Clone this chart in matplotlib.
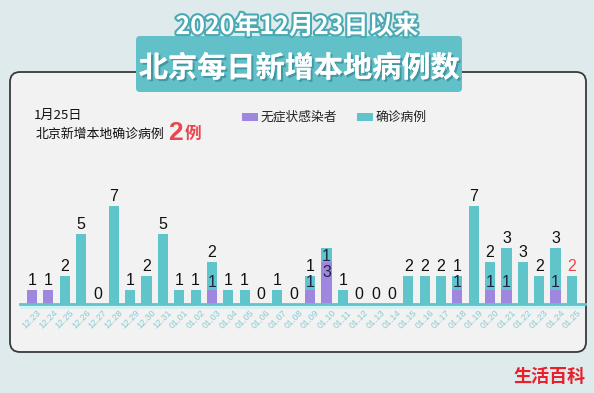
import numpy as np
import matplotlib.pyplot as plt
from matplotlib.patches import FancyBboxPatch, Rectangle
import matplotlib.patheffects as pe

plt.rcParams['font.family'] = ['Noto Sans CJK SC', 'DejaVu Sans']

dates = ['12.23', '12.24', '12.25', '12.26', '12.27', '12.28', '12.29', '12.30', '12.31',
         '01.01', '01.02', '01.03', '01.04', '01.05', '01.06', '01.07', '01.08', '01.09',
         '01.10', '01.11', '01.12', '01.13', '01.14', '01.15', '01.16', '01.17', '01.18',
         '01.19', '01.20', '01.21', '01.22', '01.23', '01.24', '01.25']
# purple part (asymptomatic) and teal part (confirmed)
asym = [1, 1, 0, 0, 0, 0, 0, 0, 0, 0, 0, 1, 0, 0, 0, 0, 0, 1, 3, 0, 0, 0, 0, 0, 0, 0, 1,
        0, 1, 1, 0, 0, 1, 0]
confirmed = [0, 0, 2, 5, 0, 7, 1, 2, 5, 1, 1, 2, 1, 1, 0, 1, 0, 1, 1, 1, 0, 0, 0, 2, 2, 2, 1,
             7, 2, 3, 3, 2, 3, 2]
# number written above each bar (None = written inside)
top_labels = [1, 1, 2, 5, 0, 7, 1, 2, 5, 1, 1, 2, 1, 1, 0, 1, 0, 1, None, 1, 0, 0, 0, 2, 2, 2, 1,
              7, 2, 3, 3, 2, 3, 2]

W, H = 594, 393
bg = '#deeaec'
teal = '#5fc5cb'
purple = '#9f86de'
red = '#e8474f'

fig = plt.figure(figsize=(W / 100, H / 100), dpi=100)
fig.patch.set_facecolor(bg)

# decoration layer in pixel coordinates
deco = fig.add_axes([0, 0, 1, 1])
deco.set_xlim(0, W)
deco.set_ylim(H, 0)
deco.axis('off')

panel = FancyBboxPatch((10, 72), 576, 280, boxstyle='round,pad=0,rounding_size=10',
                       facecolor='#f2f2f2', edgecolor='#3a3a3a', linewidth=1.3)
deco.add_patch(panel)
tbox = FancyBboxPatch((136, 36), 326, 56, boxstyle='round,pad=0,rounding_size=4',
                      facecolor='#62c0c9', edgecolor='none')
deco.add_patch(tbox)
# light band under the baseline
deco.add_patch(Rectangle((20, 304), 565, 5, facecolor='#d3f0f2', edgecolor='none'))

deco.text(297, 27, '2020年12月23日以来', ha='center', va='center', fontsize=18,
          color='white', fontweight='bold',
          path_effects=[pe.withStroke(linewidth=3, foreground='#4aaab3')])
deco.text(299, 68, '北京每日新增本地病例数', ha='center', va='center', fontsize=21,
          color='white', fontweight='bold',
          path_effects=[pe.withSimplePatchShadow(offset=(1.5, -1.5), shadow_rgbFace='#3b8e96', alpha=0.8),
                        pe.Normal()])

deco.text(34, 115, '1月25日', ha='left', va='center', fontsize=9.5, color='#111111')
deco.text(36, 134, '北京新增本地确诊病例', ha='left', va='center', fontsize=9.3, color='#111111')
deco.text(168, 133, '2', ha='left', va='center', fontsize=19, color=red, fontweight='bold',
          family=['Liberation Sans', 'DejaVu Sans'])
deco.text(185, 134, '例', ha='left', va='center', fontsize=12, color=red, fontweight='bold')

deco.add_patch(Rectangle((242, 113), 16, 8, facecolor=purple, edgecolor='none'))
deco.text(261, 117, '无症状感染者', ha='left', va='center', fontsize=9.2, color='#222222')
deco.add_patch(Rectangle((357, 113), 16, 8, facecolor=teal, edgecolor='none'))
deco.text(376, 117, '确诊病例', ha='left', va='center', fontsize=9.2, color='#222222')

deco.text(549, 377, '生活百科', ha='center', va='center', fontsize=13, color='#e8202a',
          fontweight='bold')

# bar axes: bar i centred at 32 + 16.36*i px, baseline at y=304, 14 px per case
x0, x1 = 20, 585
ybase, ytop = 304, 190
step = 16.36
ax = fig.add_axes([x0 / W, 1 - ybase / H, (x1 - x0) / W, (ybase - ytop) / H])
ax.set_xlim((x0 - 32) / step, (x1 - 32) / step)
ax.set_ylim(0, (ybase - ytop) / 14)
ax.patch.set_alpha(0)
for s in ['top', 'right', 'left']:
    ax.spines[s].set_visible(False)
ax.spines['bottom'].set_color(teal)
ax.spines['bottom'].set_linewidth(2)
ax.set_yticks([])

x = np.arange(len(dates))
ax.bar(x, asym, width=0.62, color=purple)
ax.bar(x, confirmed, width=0.62, bottom=asym, color=teal)

num_font = ['Liberation Sans', 'DejaVu Sans']
for i in range(len(dates)):
    total = asym[i] + confirmed[i]
    if top_labels[i] is not None:
        col = red if i == len(dates) - 1 else '#111111'
        ax.text(x[i], total + 0.12, str(top_labels[i]), ha='center', va='bottom',
                fontsize=11.5, color=col, family=num_font)
        if asym[i] > 0 and confirmed[i] > 0:
            ax.text(x[i], asym[i] + 0.02, str(asym[i]), ha='center', va='bottom',
                    fontsize=11.5, color='#222244', family=num_font)
    else:
        ax.text(x[i], total - 0.05, str(confirmed[i]), ha='center', va='top',
                fontsize=11.5, color='#222244', family=num_font)
        ax.text(x[i], asym[i] - 0.75, str(asym[i]), ha='center', va='center',
                fontsize=11.5, color='#222244', family=num_font)

ax.set_xticks(x)
ax.set_xticklabels(dates, rotation=45, ha='center', va='top', fontsize=6.5,
                   color='#86cdd2', family=num_font)
ax.tick_params(axis='x', length=0, pad=3)

fig.savefig('out.png', dpi=100, facecolor=fig.get_facecolor())
